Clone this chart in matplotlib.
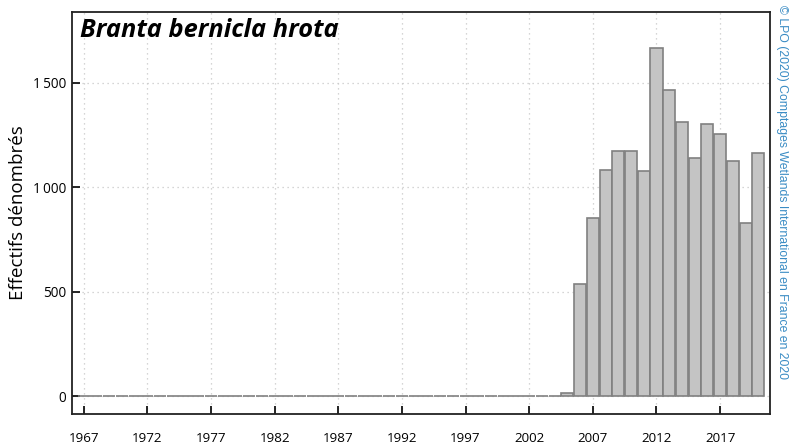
import matplotlib
matplotlib.use("Agg")
import matplotlib.pyplot as plt
from matplotlib.ticker import FuncFormatter

years = list(range(1967, 2021))
counts_recent = [16, 538, 852, 1083, 1175, 1175, 1077, 1665, 1464, 1314,
                 1142, 1301, 1257, 1128, 827, 1164]
counts = [0] * (len(years) - len(counts_recent)) + counts_recent
xtick_years = list(range(1967, 2021, 5))
ytick_values = [0, 500, 1000, 1500]

plt.rcParams["font.family"] = ["Open Sans", "DejaVu Sans"]

fig = plt.figure(figsize=(7.91, 4.47), dpi=100)
ax = fig.add_axes([72 / 791, 1 - 414 / 447, (770 - 72) / 791, (414 - 12) / 447])

ax.bar(years, counts, width=0.95, color="#c4c4c4", edgecolor="#808080",
       linewidth=1.2, zorder=3)

ax.set_xlim(1966.08, 2020.92)
ax.set_ylim(-84, 1838)
ax.set_xticks(xtick_years)
ax.set_yticks(ytick_values)
ax.yaxis.set_major_formatter(FuncFormatter(lambda v, p: f"{int(v):,}".replace(",", "\u2009")))

ax.grid(True, color="#c8c8c8", linestyle=(0, (1, 3)), linewidth=0.9, zorder=0)
ax.tick_params(axis="x", direction="in", length=6, width=1.2, pad=13, labelsize=9.6)
ax.tick_params(axis="y", direction="in", length=6, width=1.2, pad=4, labelsize=9.8)
for side in ["top", "right", "left", "bottom"]:
    ax.spines[side].set_linewidth(1.3)
    ax.spines[side].set_color("#222222")

ax.set_ylabel("Effectifs dénombrés", fontsize=13.5)
ax.yaxis.set_label_coords(-45 / 698, 0.5)

ax.text(0.011, 0.985, "Branta bernicla hrota", transform=ax.transAxes,
        fontsize=18.3, fontweight="bold", fontstyle="italic", va="top", ha="left")

fig.text(782 / 791, 0.988, "© LPO (2020) Comptages Wetlands International en France en 2020",
         rotation=-90, color="#3a8cc4", fontsize=8.8, va="top", ha="center",
         family=["Liberation Sans", "DejaVu Sans"])

fig.savefig("out.png", dpi=100)
